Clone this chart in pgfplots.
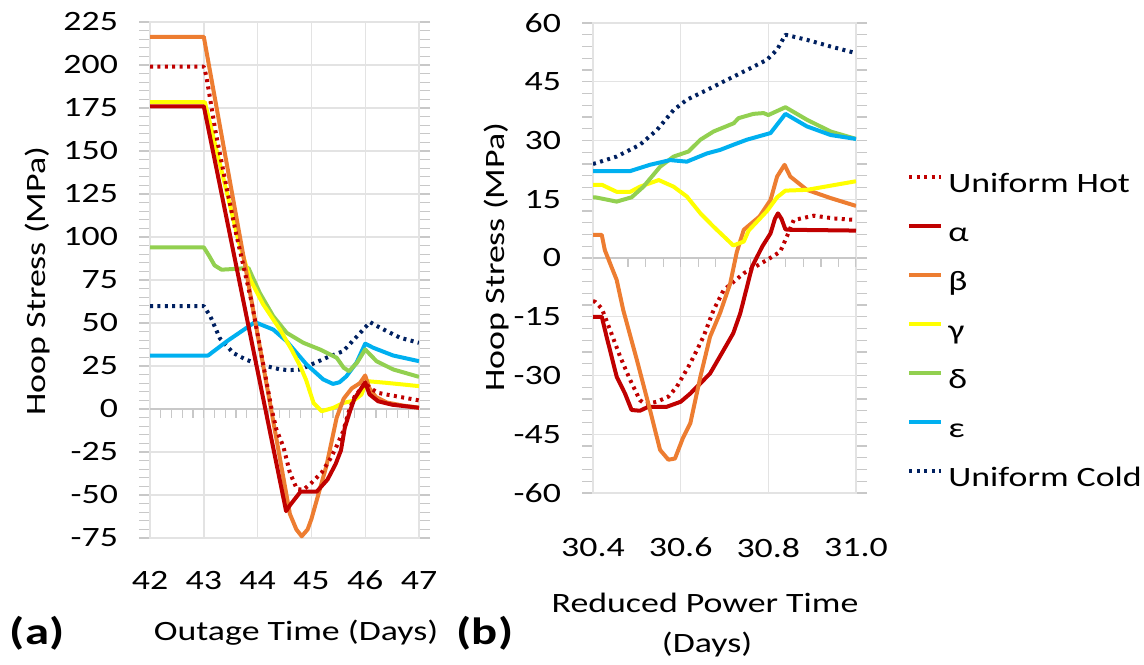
\documentclass[border=0pt]{standalone}
\usepackage{fontspec}
\setmainfont{Carlito}[FakeStretch=1.28]
\usepackage{pgfplots}
\pgfplotsset{compat=1.18}

\definecolor{hot}{HTML}{C00000}
\definecolor{cbeta}{HTML}{ED7D31}
\definecolor{cgamma}{HTML}{FFFF00}
\definecolor{cdelta}{HTML}{92D050}
\definecolor{ceps}{HTML}{00B0F0}
\definecolor{cold}{HTML}{002060}
\definecolor{gridc}{HTML}{E3E3E3}
\definecolor{tickc}{HTML}{C8C8C8}

\pgfplotsset{
  hoop/.style={
    scale only axis, anchor=south west,
    font=\fontsize{14}{16}\selectfont,
    /pgf/number format/assume math mode=true,
    grid=major,
    major grid style={gridc, line width=0.7pt},
    axis line style={gridc, line width=0.7pt},
    xtick style={draw=none},
    ytick style={tickc, line width=0.6pt},
    tick align=outside,
    major tick length=5.5pt, minor tick length=5.5pt,
    minor y tick num=4,
    yticklabel style={xshift=-7pt},
    every axis plot/.append style={line width=2pt, line join=round},
  },
  dotted line/.style={dash pattern=on 1.5pt off 2.2pt},
}

\begin{document}
\begin{tikzpicture}
\useasboundingbox (0,0) rectangle (572pt,332pt);

% (a) outage
\begin{axis}[hoop,
  at={(75pt,63pt)}, width=134.5pt, height=258pt,
  xmin=42, xmax=47, ymin=-75, ymax=225,
  xtick={42,43,44,45,46,47},
  ytick={-75,-50,...,225},
  xticklabel style={yshift=-7.5pt},
]
\draw[tickc, line width=0.7pt] (axis cs:42,0) -- (axis cs:47,0);
\pgfplotsinvokeforeach{42.2,42.4,...,47}{
  \draw[tickc, line width=0.6pt] (axis cs:#1,0) -- ([yshift=-4.5pt]axis cs:#1,0);
}
\addplot[cold, dotted line] coordinates {
  (42,59.8) (43,59.8) (43.12,54) (43.3,41) (43.55,32.5) (43.8,28.5) (44.04,25.9)
  (44.42,23) (44.6,22.6) (44.8,23) (44.97,25.5) (45.28,29.8) (45.59,33.6)
  (45.9,44) (46.09,50.5) (46.28,47.2) (46.65,41.4) (47,38.5)
};
\addplot[ceps] coordinates {
  (42,31.1) (43.08,31.1) (43.43,39.4) (43.95,50.5) (44.29,46.2) (44.54,39.4)
  (44.91,25.9) (45.22,17.2) (45.4,14.6) (45.52,15.5) (45.65,19) (45.84,27)
  (46.0,38) (46.15,35.6) (46.52,31.1) (47,27.8)
};
\addplot[cdelta] coordinates {
  (42,94) (43,94) (43.1,89) (43.2,83.5) (43.33,81) (43.6,81.5) (43.83,82)
  (44.04,67.5) (44.29,54) (44.54,44.3) (44.85,38.5) (45.16,34.6) (45.47,29.8)
  (45.6,24) (45.7,22) (45.85,27) (46.0,34.6) (46.21,27.8) (46.52,23) (47,18.7)
};
\addplot[cgamma] coordinates {
  (42,178.4) (43.02,178.4) (43.64,98.5) (43.86,75.5) (44.1,61) (44.42,46)
  (44.63,34.6) (44.79,25) (44.9,17) (45.04,3.5) (45.19,-1.3) (45.41,0.7)
  (45.6,3.6) (45.78,4.8) (45.93,8.4) (46.03,16.2) (46.4,15.2) (47,13.3)
};
\addplot[cbeta] coordinates {
  (42,216.4) (43,216.4) (44.25,0) (44.6,-61) (44.72,-70) (44.82,-74) (44.93,-70)
  (45.0,-64) (45.28,-33) (45.47,-5) (45.6,6) (45.75,12) (45.9,15) (46.0,19.5)
  (46.08,12) (46.2,7) (46.4,3.8) (46.7,2) (47,0.8)
};
\addplot[hot] coordinates {
  (42,176) (43,176) (44.53,-59.4) (44.6,-56) (44.8,-48) (45.1,-48) (45.3,-41)
  (45.45,-32) (45.55,-24) (45.62,-11) (45.72,-1) (45.8,6) (46.0,15.5)
  (46.08,8.5) (46.24,4.5) (46.5,2.5) (47,0.7)
};
\addplot[hot, dotted line] coordinates {
  (42,199) (43,199) (43.05,193) (43.22,161) (43.39,134) (43.6,102) (43.89,62)
  (44.05,35) (44.26,0) (44.35,-12) (44.48,-22) (44.6,-37) (44.73,-46.5)
  (44.85,-47) (45.0,-43) (45.19,-37) (45.35,-29) (45.47,-21.5) (45.59,-13)
  (45.69,-2) (45.8,7) (46.0,15) (46.1,12) (46.24,9.4) (46.4,8.4) (46.65,7) (47,5)
};
\end{axis}

% (b) reduced power
\begin{axis}[hoop,
  at={(296.5pt,85.5pt)}, width=131.5pt, height=235pt,
  xmin=30.4, xmax=31.0, ymin=-60, ymax=60,
  xtick={30.4,30.6,30.8,31.0},
  ytick={-60,-45,...,60},
  xticklabel style={yshift=-13.5pt, /pgf/number format/.cd, fixed, fixed zerofill, precision=1},
  legend style={at={(1.171,0.6915)}, anchor=north west, draw=none, fill=none,
    font=\fontsize{14}{16}\selectfont,
    nodes={inner sep=0pt, text height=10pt, text depth=3pt},
    row sep=11.5pt, column sep=2.5pt},
  legend cell align=left,
  legend image code/.code={\draw[#1] (0pt,4pt) -- (16pt,4pt);},
]
\draw[tickc, line width=0.7pt] (axis cs:30.4,0) -- (axis cs:31.0,0);
\pgfplotsinvokeforeach{30.44,30.48,...,31.0}{
  \draw[tickc, line width=0.6pt] (axis cs:#1,0) -- ([yshift=-4.5pt]axis cs:#1,0);
}
\addplot[hot, dotted line] coordinates {
  (30.4,-11) (30.405,-11.2) (30.42,-12.9) (30.439,-18.4) (30.462,-25.2)
  (30.485,-31.2) (30.507,-36.3) (30.519,-37.3) (30.546,-36.7) (30.572,-35.4)
  (30.591,-32.9) (30.622,-26.9) (30.652,-20.1) (30.675,-13.3) (30.698,-8.2)
  (30.744,-3.9) (30.797,-0.5) (30.827,1.6) (30.842,5.4) (30.858,9.7)
  (30.904,10.8) (30.95,10.1) (31.0,9.7)
};
\addlegendentry{Uniform Hot}
\addplot[hot] coordinates {
  (30.4,-15) (30.42,-15) (30.431,-20.1) (30.454,-30.3) (30.473,-34.6)
  (30.488,-38.8) (30.507,-39) (30.526,-38) (30.568,-38) (30.6,-36.7)
  (30.622,-34.6) (30.645,-32) (30.667,-29.5) (30.698,-23.5) (30.72,-19.2)
  (30.736,-14.1) (30.763,-2.2) (30.786,2.9) (30.805,6.3) (30.815,10)
  (30.822,11.4) (30.83,10) (30.839,7.3) (30.85,7.2) (31.0,7)
};
\addlegendentry{α}
\addplot[cbeta] coordinates {
  (30.4,5.9) (30.42,5.9) (30.427,2) (30.454,-5.6) (30.469,-13.3) (30.5,-26)
  (30.53,-38.8) (30.553,-49) (30.572,-51.5) (30.587,-51.2) (30.605,-46)
  (30.622,-42.2) (30.645,-30.3) (30.667,-20.1) (30.69,-14) (30.713,-6.5)
  (30.728,1.5) (30.744,7.2) (30.78,10.6) (30.805,14.8) (30.82,20.8)
  (30.837,23.8) (30.85,20.8) (30.888,17.4) (30.942,15.3) (31.0,13.3)
};
\addlegendentry{β}
\addplot[cgamma] coordinates {
  (30.4,18.7) (30.42,18.7) (30.454,16.9) (30.485,16.9) (30.507,18.2)
  (30.55,19.9) (30.584,18.2) (30.614,15.7) (30.645,11.4) (30.675,8)
  (30.72,3.2) (30.744,4.2) (30.755,7) (30.797,12) (30.82,15.5) (30.839,17.2)
  (30.888,17.4) (31.0,19.6)
};
\addlegendentry{γ}
\addplot[cdelta] coordinates {
  (30.4,15.5) (30.405,15.5) (30.454,14.4) (30.488,15.5) (30.515,18.2)
  (30.553,23.3) (30.584,25.9) (30.618,27.2) (30.645,30.2) (30.675,32.3)
  (30.721,34.4) (30.732,35.7) (30.766,36.8) (30.789,37) (30.80,36.5)
  (30.839,38.5) (30.888,35.3) (30.942,32.3) (31.0,30.4)
};
\addlegendentry{δ}
\addplot[ceps] coordinates {
  (30.4,22.2) (30.485,22.2) (30.53,23.8) (30.576,25) (30.614,24.6)
  (30.66,26.7) (30.69,27.6) (30.72,28.9) (30.751,30.2) (30.805,31.9)
  (30.839,36.8) (30.888,33.6) (30.942,31.4) (31.0,30.4)
};
\addlegendentry{ε}
\addplot[cold, dotted line] coordinates {
  (30.4,24) (30.454,25.9) (30.507,28.9) (30.546,32.7) (30.584,37.8)
  (30.614,40.4) (30.66,42.9) (30.706,45.5) (30.751,48) (30.797,50.6)
  (30.82,53.2) (30.839,57) (30.888,55.7) (30.942,54) (31.0,52.3)
};
\addlegendentry{Uniform Cold}
\end{axis}

\node[rotate=90, font=\fontsize{14}{16}\selectfont] at (19pt,191.5pt) {Hoop Stress (MPa)};
\node[rotate=90, font=\fontsize{14}{16}\selectfont] at (248.5pt,203.5pt) {Hoop Stress (MPa)};
\node[font=\fontsize{14}{16}\selectfont] at (148pt,15.5pt) {Outage Time (Days)};
\node[font=\fontsize{14}{16}\selectfont] at (352.5pt,30.5pt) {Reduced Power Time};
\node[font=\fontsize{14}{16}\selectfont] at (353.5pt,9.5pt) {(Days)};
\node[font=\fontsize{19}{22}\selectfont\bfseries] at (18.5pt,15.5pt) {(a)};
\node[font=\fontsize{19}{22}\selectfont\bfseries] at (242.5pt,15.5pt) {(b)};
\end{tikzpicture}
\end{document}
